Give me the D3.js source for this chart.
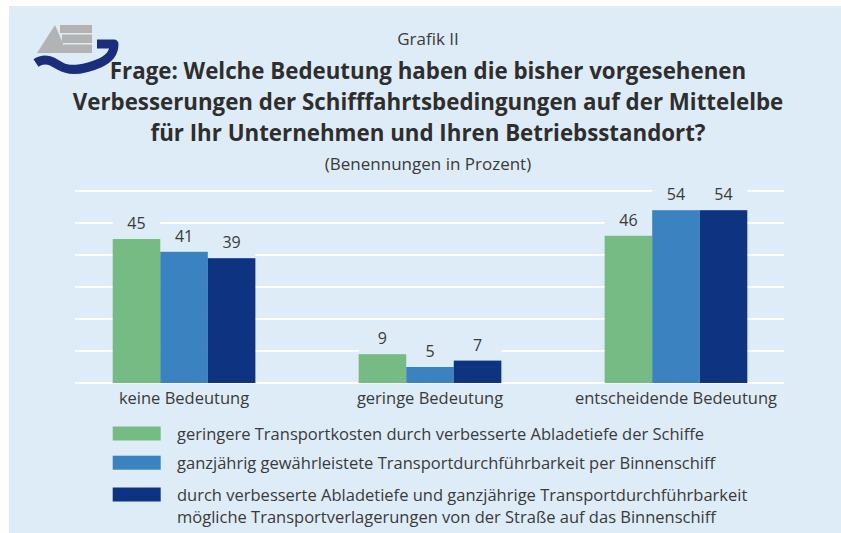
<!DOCTYPE html>
<html>
<head>
<meta charset="utf-8">
<script src="https://cdn.jsdelivr.net/npm/d3@7"></script>
<style>
  html, body { margin: 0; padding: 0; background: #ffffff; }
  svg { display: block; }
</style>
</head>
<body>
<div id="chart"></div>
<script>
// ---- data ----
const categories = ["keine Bedeutung", "geringe Bedeutung", "entscheidende Bedeutung"];
const seriesNames = [
  "geringere Transportkosten durch verbesserte Abladetiefe der Schiffe",
  "ganzjährig gewährleistete Transportdurchführbarkeit per Binnenschiff",
  "durch verbesserte Abladetiefe und ganzjährige Transportdurchführbarkeit|mögliche Transportverlagerungen von der Straße auf das Binnenschiff"
];
const seriesA = [45, 9, 46];
const seriesB = [41, 5, 54];
const seriesC = [39, 7, 54];
const gridTicks = [0, 10, 20, 30, 40, 50, 60];
const titleLines = [
  "Frage: Welche Bedeutung haben die bisher vorgesehenen",
  "Verbesserungen der Schifffahrtsbedingungen auf der Mittelelbe",
  "für Ihr Unternehmen und Ihren Betriebsstandort?"
];
const supTitle = "Grafik II";
const subTitle = "(Benennungen in Prozent)";

// ---- layout ----
const W = 841, H = 533;
const colors = ["#76bb83", "#3b82c1", "#0e3481"];
const panelColor = "#deecf8";
const textColor = "#3a3a3a";
const FONT = "'Open Sans', Lato, sans-serif";

const svg = d3.select("#chart").append("svg").attr("width", W).attr("height", H);

svg.append("rect").attr("x", 9).attr("y", 6).attr("width", W - 9).attr("height", H - 6)
  .attr("fill", panelColor);

// logo
const logo = svg.append("g");
logo.append("path").attr("d", "M55,25 L37,53 L67,53 Z").attr("fill", "#b3b3b3");
logo.append("rect").attr("x", 60).attr("y", 25).attr("width", 32).attr("height", 8).attr("fill", "#b3b3b3");
logo.append("rect").attr("x", 62).attr("y", 34.5).attr("width", 30).attr("height", 8.5).attr("fill", "#b3b3b3");
logo.append("rect").attr("x", 64).attr("y", 44.5).attr("width", 28).attr("height", 8.5).attr("fill", "#b3b3b3");
logo.append("path")
  .attr("d", "M36,63 C45,57 52,61 60,66 C70,72 86,69 100,63 C111,58 114,52 114,44 L97,44")
  .attr("fill", "none").attr("stroke", "#1a2e7c").attr("stroke-width", 9).attr("stroke-linejoin", "round");

// titles
const cx = 428;
svg.append("text").attr("x", cx).attr("y", 45).attr("text-anchor", "middle")
  .attr("font-family", FONT).attr("font-size", 17).attr("fill", textColor).text(supTitle);
svg.selectAll("text.title").data(titleLines).join("text").attr("class", "title")
  .attr("x", cx).attr("y", (d, i) => 79 + i * 31).attr("text-anchor", "middle")
  .attr("font-family", FONT).attr("font-weight", "bold").attr("font-size", 22.3)
  .attr("fill", "#2e2e2e").text(d => d);
svg.append("text").attr("x", cx).attr("y", 170).attr("text-anchor", "middle")
  .attr("font-family", FONT).attr("font-size", 17).attr("fill", textColor).text(subTitle);

// scales
const x0 = d3.scaleBand().domain(categories).range([112.7, 747.3]).paddingInner(0.42).paddingOuter(0);
const x1 = d3.scaleBand().domain([0, 1, 2]).range([0, x0.bandwidth()]);
const y = d3.scaleLinear().domain([0, 60]).range([383, 191]);

// gridlines
svg.append("g").selectAll("line").data(gridTicks).join("line")
  .attr("x1", 75).attr("x2", 784)
  .attr("y1", d => y(d)).attr("y2", d => y(d))
  .attr("stroke", "#ffffff").attr("stroke-width", 2);

const allSeries = [seriesA, seriesB, seriesC];
const cells = [];
categories.forEach((c, ci) => {
  allSeries.forEach((s, si) => cells.push({ cat: c, si, v: s[ci] }));
});

// label backgrounds
svg.append("g").selectAll("rect").data(cells).join("rect")
  .attr("x", d => x0(d.cat) + x1(d.si)).attr("width", x1.bandwidth())
  .attr("y", d => y(d.v) - 24).attr("height", 24)
  .attr("fill", panelColor);

// bars
svg.append("g").selectAll("rect").data(cells).join("rect")
  .attr("x", d => x0(d.cat) + x1(d.si)).attr("width", x1.bandwidth())
  .attr("y", d => y(d.v)).attr("height", d => y(0) - y(d.v))
  .attr("fill", d => colors[d.si]);

// value labels
svg.append("g").selectAll("text").data(cells).join("text")
  .attr("x", d => x0(d.cat) + x1(d.si) + x1.bandwidth() / 2)
  .attr("y", d => y(d.v) - 10).attr("text-anchor", "middle")
  .attr("font-family", FONT).attr("font-size", 16).attr("fill", textColor)
  .text(d => d.v);

// category axis
const xAxis = d3.axisBottom(x0).tickSize(0).tickPadding(0);
const gx = svg.append("g").attr("transform", `translate(0,${y(0)})`).call(xAxis);
gx.select(".domain").remove();
gx.selectAll("text").attr("dy", 0).attr("y", 21)
  .attr("font-family", FONT).attr("font-size", 16.5).attr("fill", textColor);

// legend
const legendY = [426.5, 455.7, 487.5];
const lg = svg.append("g");
seriesNames.forEach((name, i) => {
  lg.append("rect").attr("x", 112.7).attr("y", legendY[i]).attr("width", 48).attr("height", 14)
    .attr("fill", colors[i]);
  const t = lg.append("text").attr("x", 177).attr("y", legendY[i] + 13)
    .attr("font-family", FONT).attr("font-size", 16.5).attr("fill", textColor);
  name.split("|").forEach((line, li) => {
    t.append("tspan").attr("x", 177).attr("dy", li === 0 ? 0 : 22).text(line);
  });
});
</script>
</body>
</html>
